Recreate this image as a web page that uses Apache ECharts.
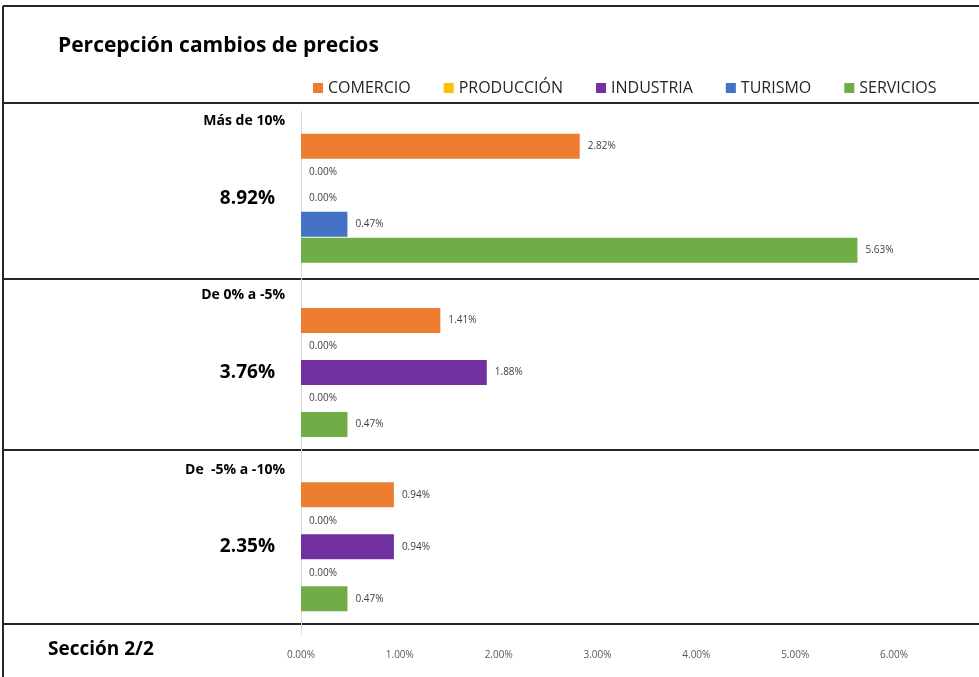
<!DOCTYPE html>
<html>
<head>
<meta charset="utf-8">
<script src="https://cdn.jsdelivr.net/npm/echarts@6/dist/echarts.min.js"></script>
<style>
  html, body { margin: 0; padding: 0; background: #fff; }
  #main { width: 979px; height: 677px; }
</style>
</head>
<body>
<div id="main"></div>
<script>
// categorias (de arriba a abajo) y totales por bloque
var categories = ['Más de 10%', 'De 0% a -5%', 'De  -5% a -10%']
var totals = ['8.92%', '3.76%', '2.35%']

// valores en %
var comercio = [2.82, 1.41, 0.94]
var produccion = [0, 0, 0]
var industria = [0, 1.88, 0.94]
var turismo = [0.47, 0, 0]
var servicios = [5.63, 0.47, 0.47]

var seriesNames = ['COMERCIO', 'PRODUCCIÓN', 'INDUSTRIA', 'TURISMO', 'SERVICIOS']
var seriesColors = ['#ED7D31', '#FFC000', '#7030A0', '#4472C4', '#70AD47']
var seriesValues = [comercio, produccion, industria, turismo, servicios]

var font = 'Open Sans'

var chart = echarts.init(document.getElementById('main'))

function makeSeries(i) {
  return {
    name: seriesNames[i],
    type: 'bar',
    data: seriesValues[i],
    barWidth: 25,
    barGap: '4%',
    itemStyle: { color: seriesColors[i] },
    label: {
      show: true,
      position: 'right',
      distance: 8,
      fontFamily: font,
      fontSize: 10,
      color: '#404040',
      formatter: function(p) {
        return p.value.toFixed(2) + '%'
      }
    }
  }
}

// lineas del marco
var frameLine = { stroke: '#262626', lineWidth: 2 }
var graphics = [
  { type: 'line', shape: { x1: 3, y1: 6, x2: 979, y2: 6 }, style: frameLine },
  { type: 'line', shape: { x1: 3, y1: 6, x2: 3, y2: 677 }, style: frameLine }
];
[103, 279, 450, 624].forEach(function(y) {
  graphics.push({ type: 'line', shape: { x1: 3, y1: y, x2: 979, y2: y }, style: frameLine })
})
graphics.push({
  type: 'text',
  left: 48,
  top: 640,
  style: { text: 'Sección 2/2', font: 'bold 19px "Open Sans"', fill: '#000' }
})

chart.setOption({
  backgroundColor: '#fff',
  animation: false,
  title: {
    text: 'Percepción cambios de precios',
    left: 53,
    top: 31,
    textStyle: {
      fontFamily: font,
      fontSize: 21,
      fontWeight: 'bold',
      color: '#000'
    }
  },
  legend: {
    data: seriesNames,
    left: 308,
    top: 75,
    icon: 'rect',
    itemWidth: 10,
    itemHeight: 10,
    itemGap: 33,
    textStyle: {
      fontFamily: font,
      fontSize: 16,
      color: '#262626'
    }
  },
  grid: {
    left: 301,
    right: 85,
    top: 111,
    bottom: 43,
    containLabel: false
  },
  xAxis: {
    type: 'value',
    min: 0,
    max: 6,
    interval: 1,
    axisLine: { show: false },
    axisTick: { show: false },
    splitLine: { show: false },
    axisLabel: {
      margin: 16,
      fontFamily: font,
      fontSize: 10,
      color: '#595959',
      formatter: function(v) {
        return v.toFixed(2) + '%'
      }
    }
  },
  yAxis: {
    type: 'category',
    inverse: true,
    data: categories,
    axisLine: { show: true, lineStyle: { color: '#d9d9d9', width: 1 } },
    axisTick: { show: false },
    axisLabel: {
      margin: 16,
      formatter: function(v, i) {
        return '{name|' + v + '}\n{gap| }\n{total|' + totals[i] + '}\n{gap2| }'
      },
      rich: {
        name: { fontFamily: font, fontSize: 14, fontWeight: 'bold', color: '#000', lineHeight: 16 },
        gap: { fontSize: 10, lineHeight: 59 },
        total: { fontFamily: font, fontSize: 19, fontWeight: 'bold', color: '#000', lineHeight: 20, padding: [0, 10, 0, 0] },
        gap2: { fontSize: 10, lineHeight: 75 }
      }
    }
  },
  graphic: graphics,
  series: [0, 1, 2, 3, 4].map(makeSeries)
})
</script>
</body>
</html>
